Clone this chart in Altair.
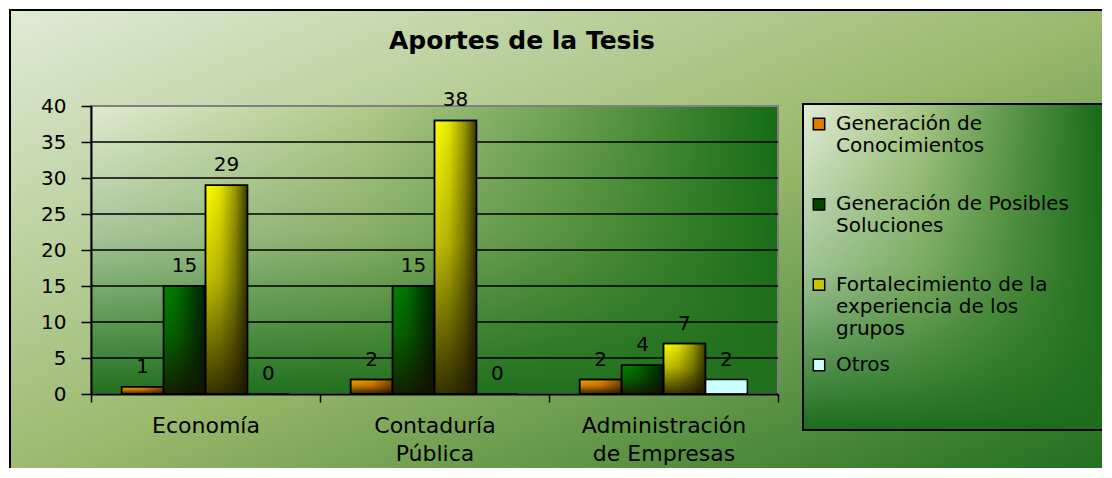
import altair as alt
import pandas as pd

# ---------------- data ----------------
categories = ["Economía", "Contaduría Pública", "Administración de Empresas"]
series = [
    "Generación de Conocimientos",
    "Generación de Posibles Soluciones",
    "Fortalecimiento de la experiencia de los grupos",
    "Otros",
]
conocimientos = [1, 2, 2]
soluciones = [15, 15, 4]
fortalecimiento = [29, 38, 7]
otros = [0, 0, 2]
y_ticks = [0, 5, 10, 15, 20, 25, 30, 35, 40]
grid_values = [5, 10, 15, 20, 25, 30, 35]
legend_labels = [
    "Generación de\nConocimientos",
    "Generación de Posibles\nSoluciones",
    "Fortalecimiento de la\nexperiencia de los\ngrupos",
    "Otros",
]
legend_colors = ["#e07a00", "#004a00", "#c8c800", "#ccffff"]
title_text = "Aportes de la Tesis"

values_by_series = [conocimientos, soluciones, fortalecimiento, otros]
rows = []
for s, vals in zip(series, values_by_series):
    for c, v in zip(categories, vals):
        rows.append({"category": c, "series": s, "value": v})
df = pd.DataFrame(rows)
grid_df = pd.DataFrame({"value": grid_values})
one = pd.DataFrame({"k": [0]})
leg_df = pd.DataFrame({"series": series, "label": legend_labels})

F = "DejaVu Sans"
W, H = 687, 288


def grad(stops, vertical=False):
    return alt.Gradient(
        gradient="linear",
        x1=0, y1=0,
        x2=0 if vertical else 1,
        y2=1 if vertical else 0,
        stops=[alt.GradientStop(offset=o, color=c) for o, c in stops],
    )


outer_grad = alt.Gradient(
    gradient="linear", x1=0, y1=0, x2=1, y2=1,
    stops=[alt.GradientStop(offset=0, color="#e0ebd6"),
           alt.GradientStop(offset=0.5, color="#9ab96c"),
           alt.GradientStop(offset=1, color="#1c6b1c")],
)
plot_h = grad([(0, "#dfeacf"), (0.4, "#b2ca8a"), (0.7, "#6a9f50"), (1, "#146c14")])
plot_v = grad([(0, "rgba(36,112,28,0)"), (0.45, "rgba(36,112,28,0.3)"),
               (1, "rgba(32,112,30,1)")], vertical=True)
leg_h = grad([(0, "#e2edd5"), (0.35, "#aac886"), (0.65, "#5a9446"),
              (0.9, "#1a6c1a"), (1, "#166816")])
leg_v = grad([(0, "rgba(40,120,36,0)"), (0.5, "rgba(40,120,36,0.35)"),
              (1, "rgba(28,108,28,1)")], vertical=True)

bar_fills = [
    grad([(0, "#ffa000"), (0.5, "#f08c00"), (1, "#8a4800")]),
    grad([(0, "#008400"), (0.35, "#007000"), (0.7, "#004400"), (1, "#002000")]),
    grad([(0, "#ffff00"), (0.35, "#e4e400"), (0.7, "#9a9a00"), (1, "#3c3c00")]),
    "#ccffff",
]
bar_shade = grad([(0, "rgba(20,15,0,0)"), (0.45, "rgba(20,15,0,0.25)"),
                  (1, "rgba(20,15,0,0.85)")], vertical=True)

# ---------------- encodings ----------------
label_expr = (
    "indexof(datum.label, ' ') > 0 ? "
    "[slice(datum.label, 0, indexof(datum.label, ' ')), "
    "slice(datum.label, indexof(datum.label, ' ') + 1)] : datum.label"
)
x_axis = alt.Axis(
    title=None, labelAngle=0, labelFont=F, labelFontSize=22, labelColor="black",
    labelPadding=13, labelLineHeight=28, labelExpr=label_expr, labelLimit=400,
    domainColor="black", domainWidth=2, tickColor="black", tickWidth=1.5,
    tickSize=8, tickBand="extent", grid=False, zindex=1,
)
y_axis = alt.Axis(
    title=None, values=y_ticks, labelFont=F, labelFontSize=20, labelColor="black",
    labelPadding=15, domainColor="black", domainWidth=2, tickColor="black",
    tickWidth=1.5, tickSize=10, grid=False, zindex=1,
)
x_enc = alt.X("category:N", sort=categories,
              scale=alt.Scale(domain=categories, paddingInner=0, paddingOuter=0),
              axis=x_axis)
xo_enc = alt.XOffset("series:N", sort=series,
                     scale=alt.Scale(domain=series, paddingInner=0, paddingOuter=0.73))
y_enc = alt.Y("value:Q", scale=alt.Scale(domain=[0, 40], nice=False), axis=y_axis)

# ---------------- backgrounds ----------------
outer_bg = alt.Chart(one).mark_rect(fill=outer_grad, stroke="black", strokeWidth=2).encode(
    x=alt.value(-81), x2=alt.value(1030), y=alt.value(-96), y2=alt.value(380))
plot_bg = alt.Chart(one).mark_rect(fill=plot_h).encode(
    x=alt.value(0), x2=alt.value(W), y=alt.value(0), y2=alt.value(H))
plot_shade = alt.Chart(one).mark_rect(fill=plot_v, stroke="#808080", strokeWidth=2).encode(
    x=alt.value(0), x2=alt.value(W), y=alt.value(0), y2=alt.value(H))

grid = alt.Chart(grid_df).mark_rule(color="black", strokeWidth=1.5).encode(y=y_enc)

bars = []
for s, f in zip(series, bar_fills):
    bars.append(
        alt.Chart(df).transform_filter(alt.datum.series == s)
        .mark_bar(fill=f, stroke="black", strokeWidth=1.5)
        .encode(x=x_enc, xOffset=xo_enc, y=y_enc)
    )
shade = (
    alt.Chart(df).transform_filter(alt.datum.series != series[3])
    .mark_bar(fill=bar_shade, stroke="black", strokeWidth=1.5)
    .encode(x=x_enc, xOffset=xo_enc, y=y_enc)
)
labels = alt.Chart(df).mark_text(
    baseline="alphabetic", dy=-14, font=F, fontSize=20, color="black"
).encode(x=x_enc, xOffset=xo_enc, y=y_enc, text="value:Q")

main = alt.layer(outer_bg, plot_bg, plot_shade, grid, *bars, shade, labels)

# ---------------- legend ----------------
leg_y = alt.Y("series:N", sort=series,
              scale=alt.Scale(type="point", domain=series, range=[18, 259], padding=0),
              axis=None)
leg_box = alt.Chart(one).mark_rect(fill=leg_h).encode(
    x=alt.value(712), x2=alt.value(1040), y=alt.value(-2), y2=alt.value(324))
leg_box2 = alt.Chart(one).mark_rect(fill=leg_v, stroke="black", strokeWidth=2).encode(
    x=alt.value(712), x2=alt.value(1040), y=alt.value(-2), y2=alt.value(324))
leg_sym = alt.Chart(leg_df).mark_square(size=130, stroke="black", strokeWidth=1.5, opacity=1).encode(
    x=alt.value(728), y=leg_y,
    color=alt.Color("series:N", scale=alt.Scale(domain=series, range=legend_colors), legend=None))
leg_txt = alt.Chart(leg_df).mark_text(
    align="left", baseline="top", dy=-10, lineBreak="\n", lineHeight=22,
    font=F, fontSize=20, color="black"
).encode(x=alt.value(745), y=leg_y, text="label:N")

legend = alt.layer(leg_box, leg_box2, leg_sym, leg_txt)

chart = (
    alt.layer(main, legend)
    .resolve_scale(y="independent", color="independent")
    .properties(
        width=W, height=H,
        title=alt.TitleParams(title_text, anchor="start", frame="group", dx=298,
                              offset=-65, baseline="alphabetic", font=F,
                              fontSize=25, fontWeight="bold", color="black"),
        padding={"left": 83, "top": 98, "right": 324, "bottom": 74},
        autosize=alt.AutoSizeParams(type="none"),
    )
    .configure_view(stroke=None)
)

chart.save("out.html", embed_options={"renderer": "svg", "actions": False})
